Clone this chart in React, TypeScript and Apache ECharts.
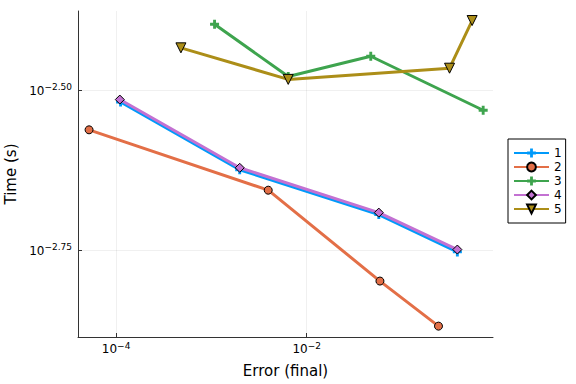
import React, { useEffect, useRef } from "react";
import * as echarts from "echarts";

const seriesNames = ["1", "2", "3", "4", "5"];
const colors = ["#009AFA", "#E36F47", "#3EA44E", "#C371D2", "#AC8E18"];

// Error (final) values per series
const err1 = [1.114e-4, 1.982e-3, 5.71e-2, 0.381];
const err2 = [5.2e-5, 3.945e-3, 5.87e-2, 0.2415];
const err3 = [1.079e-3, 6.4e-3, 4.7e-2, 0.711];
const err4 = [1.094e-4, 1.982e-3, 5.71e-2, 0.381];
const err5 = [4.786e-4, 6.4e-3, 0.3155, 0.5445];

// Time (s) values per series
const time1 = [3.029e-3, 2.373e-3, 2.02e-3, 1.766e-3];
const time2 = [2.74e-3, 2.205e-3, 1.59e-3, 1.352e-3];
const time3 = [4.005e-3, 3.32e-3, 3.57e-3, 2.94e-3];
const time4 = [3.055e-3, 2.39e-3, 2.034e-3, 1.781e-3];
const time5 = [3.68e-3, 3.285e-3, 3.42e-3, 4.06e-3];

// tick exponents (log10)
const xTickExps = [-4, -2];
const yTickExps = [-2.75, -2.5];

const plusPath = "path://M3.4,0H6.6V3.4H10V6.6H6.6V10H3.4V6.6H0V3.4H3.4Z";
const dtriPath = "path://M0,0L10,0L5,9Z";

const symbols = [plusPath, "circle", plusPath, "diamond", dtriPath];
const symbolSizes = [9, 8, 9, 9, 10];

const FONT = "DejaVu Sans";

export default function App() {
  const ref = useRef<HTMLDivElement>(null);
  useEffect(() => {
    if (!ref.current) return;
    const chart = echarts.init(ref.current, undefined, { renderer: "svg" });
    const errs = [err1, err2, err3, err4, err5];
    const times = [time1, time2, time3, time4, time5];
    const rich = {
      base: { fontSize: 12, lineHeight: 14, verticalAlign: "bottom", color: "#000", fontFamily: FONT },
      sup: { fontSize: 9, lineHeight: 10, verticalAlign: "top", padding: [0, 0, 8, 0], color: "#000", fontFamily: FONT },
    };
    const series = seriesNames.map((name, i) => ({
      name,
      type: "line",
      data: errs[i].map((e, j) => [Math.log10(e), Math.log10(times[i][j])]),
      symbol: symbols[i],
      symbolSize: symbolSizes[i],
      showAllSymbol: true,
      lineStyle: { color: colors[i], width: 3 },
      itemStyle: {
        color: colors[i],
        borderColor: symbols[i] === plusPath ? colors[i] : "#000",
        borderWidth: symbols[i] === plusPath ? 0 : 1,
      },
      emphasis: { disabled: true },
      z: 2 + i,
    }));
    chart.setOption({
      animation: false,
      backgroundColor: "#fff",
      textStyle: { fontFamily: FONT },
      grid: { left: 78, right: 83, top: 11, bottom: 47, containLabel: false, outerBoundsMode: "none" },
      legend: {
        orient: "vertical",
        left: 508,
        top: 139,
        itemWidth: 35,
        itemHeight: 11,
        itemGap: 2,
        padding: [8, 4, 8, 5],
        borderColor: "#000",
        borderWidth: 1,
        textStyle: { fontSize: 12, color: "#000", fontFamily: FONT },
        data: seriesNames,
      },
      xAxis: {
        type: "value",
        min: -4.4,
        max: -0.045,
        name: "Error (final)",
        nameLocation: "middle",
        nameGap: 26,
        nameTextStyle: { fontSize: 15, color: "#000", fontFamily: FONT },
        axisLine: { show: true, onZero: false, lineStyle: { color: "#333", width: 1 } },
        axisTick: { show: true, inside: true, length: 4, customValues: xTickExps, lineStyle: { color: "#333" } },
        axisLabel: {
          customValues: xTickExps,
          margin: 4,
          fontSize: 12,
          formatter: (v: number) => `{base|10}{sup|−${Math.abs(v)}}`,
          rich,
        },
        splitLine: { show: true, lineStyle: { color: "rgba(0,0,0,0.1)", width: 0.6 } },
      },
      yAxis: {
        type: "value",
        min: -2.886,
        max: -2.3766,
        name: "Time (s)",
        nameLocation: "middle",
        nameGap: 57,
        nameTextStyle: { fontSize: 15, color: "#000", fontFamily: FONT },
        axisLine: { show: true, onZero: false, lineStyle: { color: "#333", width: 1 } },
        axisTick: { show: true, inside: true, length: 4, customValues: yTickExps, lineStyle: { color: "#333" } },
        axisLabel: {
          customValues: yTickExps,
          margin: 6,
          fontSize: 12,
          formatter: (v: number) => `{base|10}{sup|−${Math.abs(v).toFixed(2)}}`,
          rich,
        },
        splitLine: { show: true, lineStyle: { color: "rgba(0,0,0,0.1)", width: 0.6 } },
      },
      series,
    });
    return () => chart.dispose();
  }, []);
  return <div ref={ref} style={{ width: 576, height: 384, position: "absolute", left: 0, top: 0 }} />;
}
